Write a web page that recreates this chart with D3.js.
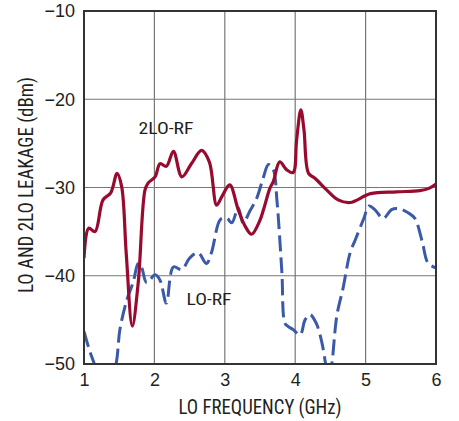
<!DOCTYPE html>
<html><head><meta charset="utf-8">
<script src="https://cdn.jsdelivr.net/npm/d3@7"></script>
<style>
body{margin:0;background:#fff;}
text{font-family:"Liberation Sans Narrow","Roboto Condensed","Liberation Sans",sans-serif;fill:#231f20;}
</style></head><body>
<svg id="c" width="459" height="421"></svg>
<script>
const xTicks=[1,2,3,4,5,6];
const yTicks=[-10,-20,-30,-40,-50];
const xLabel="LO FREQUENCY (GHz)";
const yLabel="LO AND 2LO LEAKAGE (dBm)";
// 2LO-RF series [GHz, dBm]
const twoLoFreq=[1.0,1.067,1.156,1.27,1.38,1.47,1.535,1.6,1.686,1.77,1.866,1.91,2.01,2.08,2.17,2.27,2.39,2.53,2.67,2.78,2.885,2.96,3.07,3.19,3.29,3.38,3.5,3.55,3.64,3.69,3.78,3.88,3.97,4.02,4.08,4.125,4.19,4.28,4.45,4.61,4.78,5.07,5.44,5.77,5.9,6.0];
const twoLoVal =[-38.0,-34.6,-35.0,-31.4,-30.6,-28.4,-29.9,-37.5,-45.7,-40.8,-30.3,-29.5,-28.8,-27.3,-27.6,-25.9,-28.8,-27.25,-25.8,-27.1,-32.0,-31.0,-29.7,-32.5,-34.4,-35.3,-33.7,-32.5,-30.1,-29.3,-27.1,-28.0,-28.3,-24.6,-21.2,-23.5,-28.4,-28.95,-30.3,-31.4,-31.7,-30.7,-30.5,-30.35,-30.1,-29.6];
// LO-RF series [GHz, dBm]
const loFreq=[1.0,1.08,1.156,1.25,1.35,1.455,1.51,1.61,1.70,1.77,1.82,1.89,2.01,2.08,2.17,2.27,2.39,2.5,2.62,2.74,2.81,2.94,3.03,3.10,3.19,3.26,3.36,3.45,3.55,3.62,3.69,3.74,3.81,3.855,3.90,3.97,4.07,4.14,4.21,4.30,4.38,4.44,4.48,4.52,4.59,4.68,4.78,4.85,4.97,5.05,5.13,5.25,5.37,5.47,5.61,5.70,5.80,5.89,6.0];
const loVal =[-46.3,-48.5,-50.2,-52.5,-52.5,-50.0,-46.1,-42.7,-40.7,-38.6,-39.1,-40.8,-39.9,-40.5,-43.1,-39.0,-39.3,-38.0,-37.4,-38.6,-37.4,-33.6,-33.5,-34.0,-32.3,-34.0,-32.6,-31.3,-28.8,-27.4,-28.0,-31.4,-39.5,-45.4,-45.75,-46.1,-46.7,-45.0,-44.4,-45.4,-47.6,-50.3,-51.5,-50.0,-44.6,-41.4,-37.4,-36.0,-33.6,-32.1,-32.5,-33.5,-32.5,-32.4,-32.9,-33.5,-36.0,-38.6,-39.1];

const svg=d3.select("#c");
const L=84,R=436,T=11,B=364;
const x=d3.scaleLinear().domain([1,6]).range([L,R]);
const y=d3.scaleLinear().domain([-50,-10]).range([B,T]);
const FONT='"Liberation Sans Narrow","Liberation Sans",sans-serif';

svg.append("defs").append("clipPath").attr("id","clip").append("rect")
  .attr("x",L).attr("y",T).attr("width",R-L).attr("height",B-T);

// grid
const g=svg.append("g");
g.selectAll(".vx").data(xTicks.slice(1,-1)).enter().append("line")
  .attr("x1",d=>x(d)).attr("x2",d=>x(d)).attr("y1",T).attr("y2",B)
  .attr("stroke","#777").attr("stroke-width",1.2);
g.selectAll(".hy").data(yTicks.slice(1,-1)).enter().append("line")
  .attr("y1",d=>y(d)).attr("y2",d=>y(d)).attr("x1",L).attr("x2",R)
  .attr("stroke","#777").attr("stroke-width",1.2);

const line=d3.line().x(d=>x(d[0])).y(d=>y(d[1])).curve(d3.curveCatmullRom.alpha(0.5));
const loData=loFreq.map((f,i)=>[f,loVal[i]]);
const twoData=twoLoFreq.map((f,i)=>[f,twoLoVal[i]]);

const plot=svg.append("g").attr("clip-path","url(#clip)");
plot.append("path").attr("d",line(loData)).attr("fill","none")
  .attr("stroke","#3b59a9").attr("stroke-width",3).attr("stroke-dasharray","16,6");
plot.append("path").attr("d",line(twoData)).attr("fill","none")
  .attr("stroke","#990a2f").attr("stroke-width",3.2);

// frame
svg.append("rect").attr("x",L).attr("y",T).attr("width",R-L).attr("height",B-T)
  .attr("fill","none").attr("stroke","#333").attr("stroke-width",2);

// axes
const xa=svg.append("g").attr("transform",`translate(0,${B})`)
  .call(d3.axisBottom(x).tickValues(xTicks).tickSize(0).tickPadding(9).tickFormat(d3.format("d")));
xa.select(".domain").remove();
xa.selectAll("text").attr("font-size",18).style("font-family",FONT).attr("fill","#231f20");
const ya=svg.append("g").attr("transform",`translate(${L},0)`)
  .call(d3.axisLeft(y).tickValues(yTicks).tickSize(0).tickPadding(9).tickFormat(d=>"\u2212"+Math.abs(d)));
ya.select(".domain").remove();
ya.selectAll("text").attr("font-size",18).style("font-family",FONT).attr("fill","#231f20");

svg.append("text").attr("x",260).attr("y",414).attr("text-anchor","middle")
  .attr("font-size",19.5).attr("textLength",163).attr("lengthAdjust","spacingAndGlyphs").text(xLabel);
svg.append("text").attr("transform",`translate(33,185) rotate(-90)`).attr("text-anchor","middle")
  .attr("font-size",19.5).attr("textLength",216).attr("lengthAdjust","spacingAndGlyphs").text(yLabel);

svg.append("text").attr("x",166).attr("y",134).attr("text-anchor","middle").attr("font-size",16.5)
  .attr("textLength",55).attr("lengthAdjust","spacingAndGlyphs").text("2LO-RF");
svg.append("text").attr("x",209).attr("y",305).attr("text-anchor","middle").attr("font-size",16.5)
  .attr("textLength",45).attr("lengthAdjust","spacingAndGlyphs").text("LO-RF");
</script></body></html>
